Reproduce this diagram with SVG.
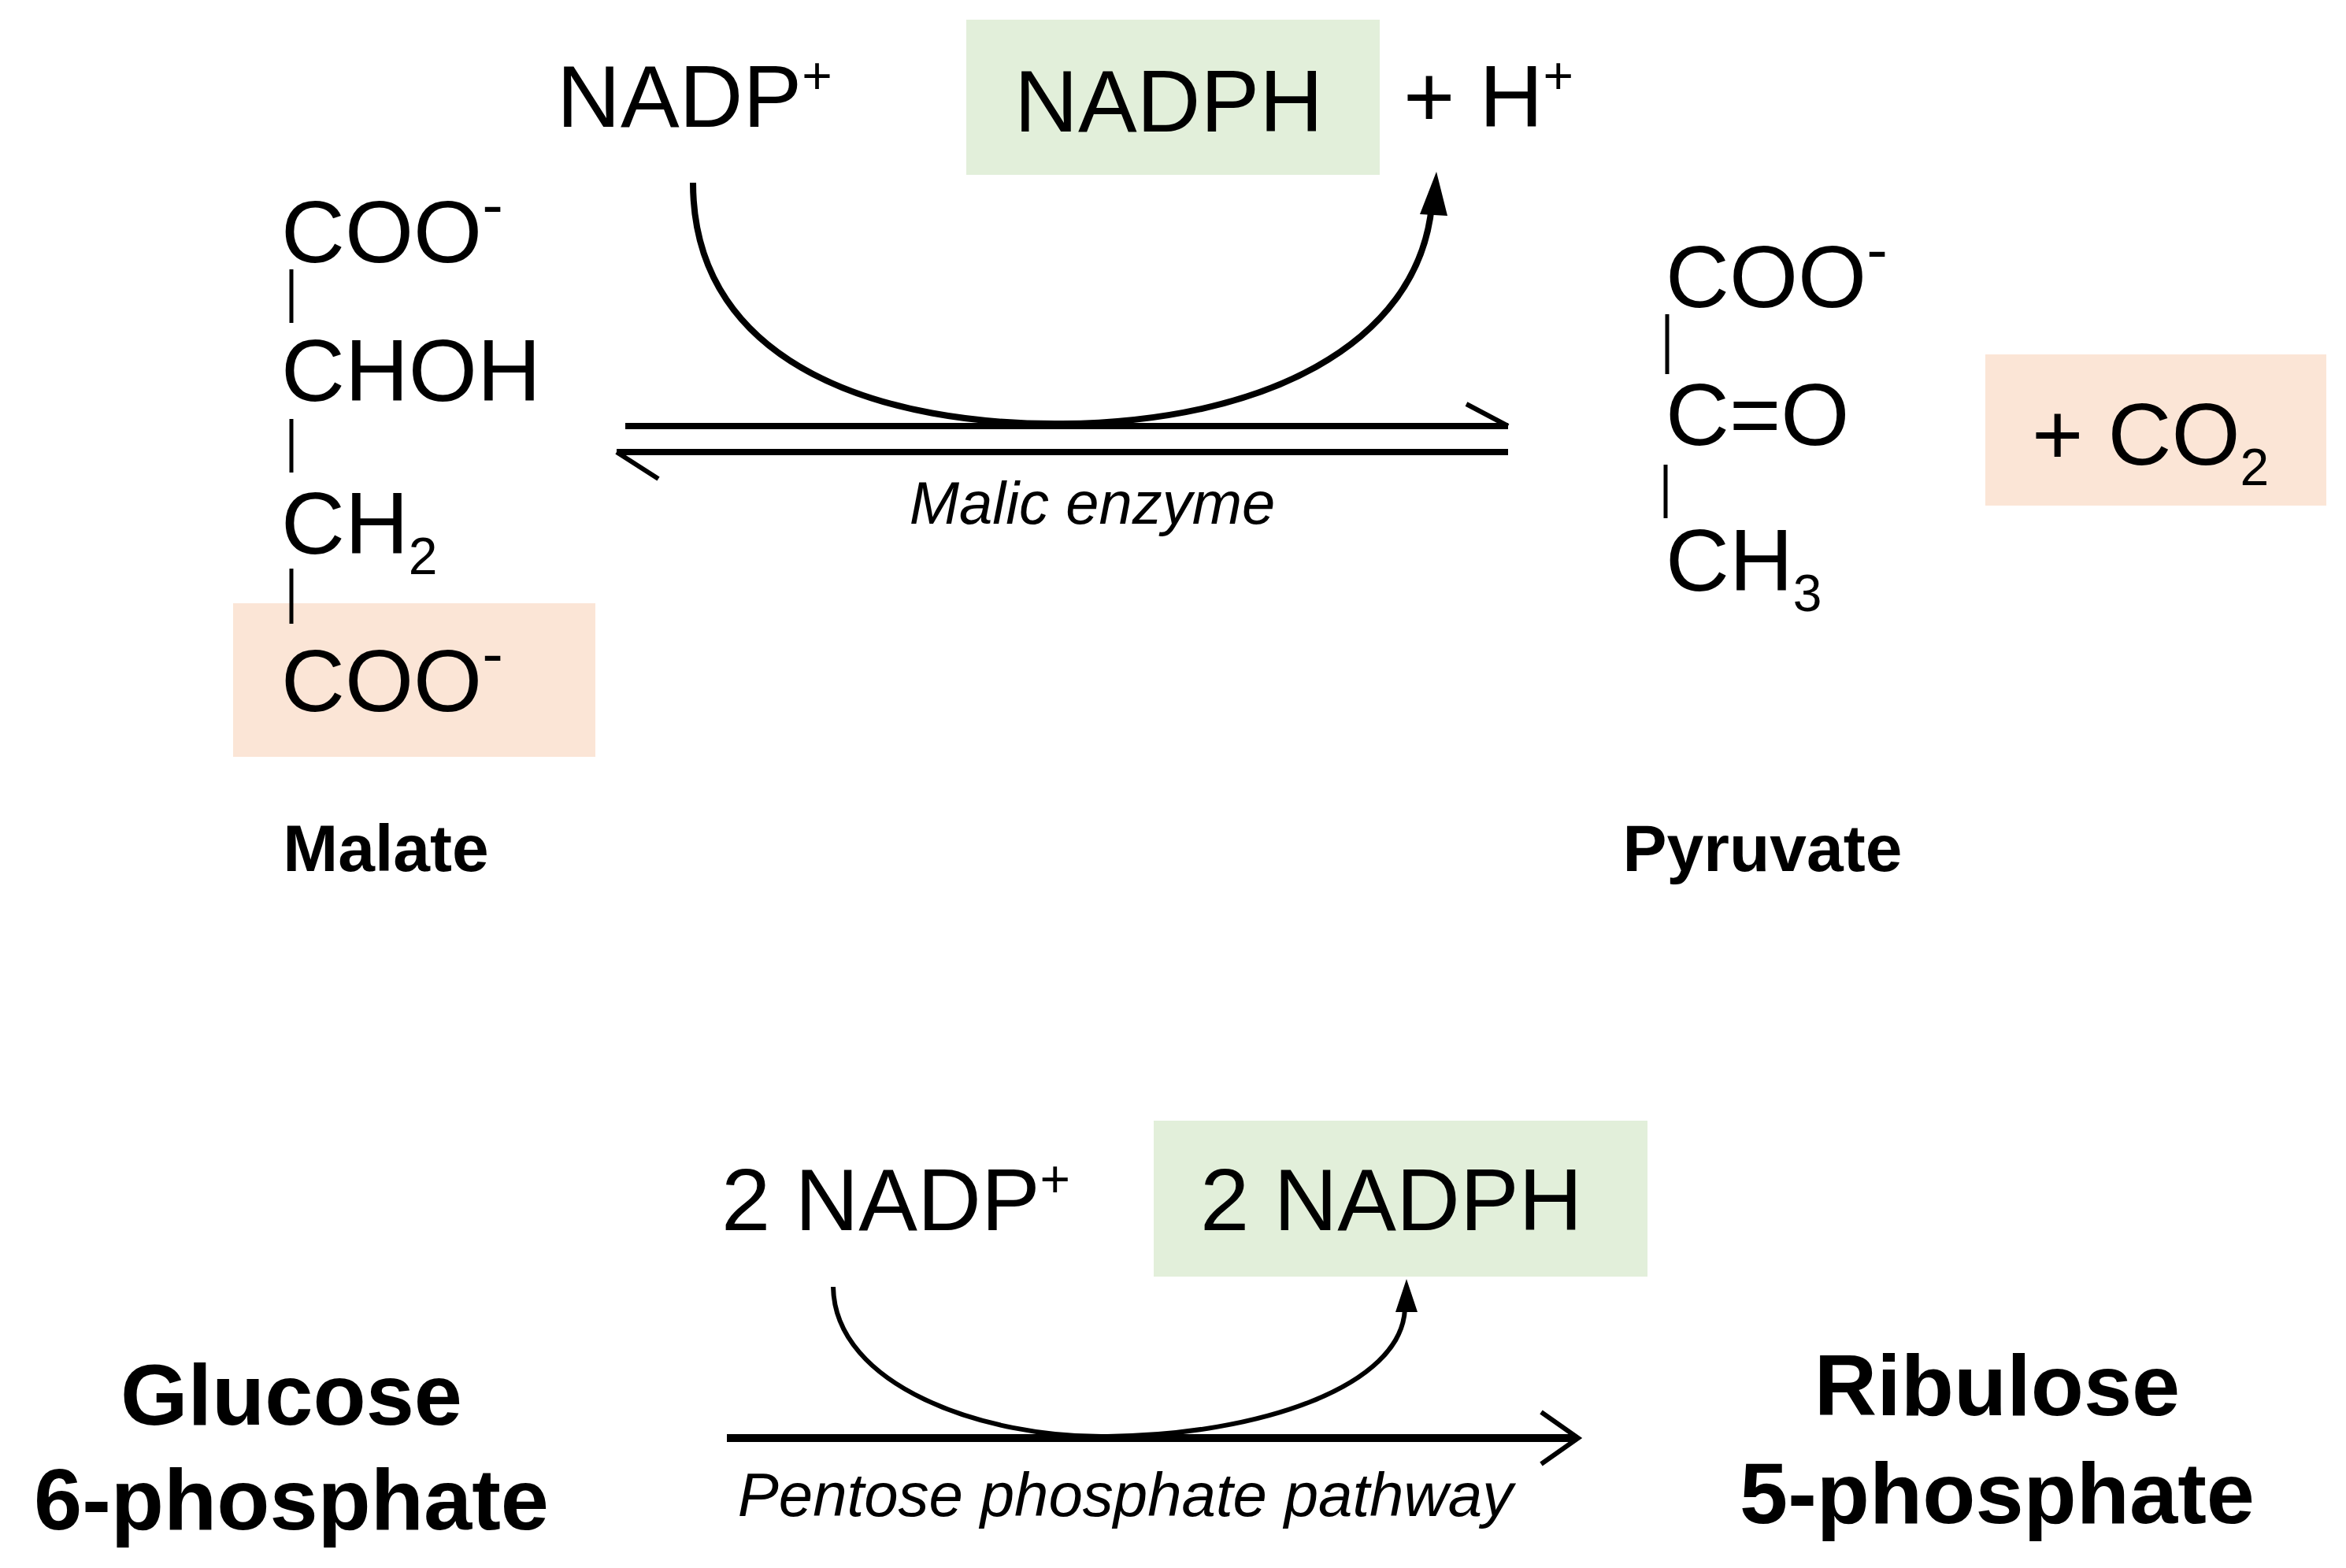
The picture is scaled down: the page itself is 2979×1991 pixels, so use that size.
<svg xmlns="http://www.w3.org/2000/svg" width="2979" height="1991" viewBox="0 0 2979 1991">
<style>
text{font-family:"Liberation Sans",Arial,sans-serif;fill:#000}
.big{font-size:112px}
.bond{stroke:#000;stroke-width:5}
.lbl{font-size:84px;font-weight:bold;text-anchor:middle}
.bl{font-size:110px;font-weight:bold;text-anchor:middle}
.it{font-style:italic;font-size:76px;text-anchor:middle}
.sup{font-size:66px}
.mn{font-size:80px}
.ln{stroke:#000;fill:none}
</style>
<rect width="2979" height="1991" fill="#fff"/>
<g id="nadp-top"><text class="big" x="707" y="161">NADP<tspan class="sup" dy="-42">+</tspan></text></g>
<g id="nadph-top"><rect x="1227" y="25" width="525" height="197" fill="#e2efda"/><text class="big" x="1288" y="167">NADPH</text></g>
<g id="hplus"><text class="big" x="1782" y="161">+ H<tspan class="sup" dy="-42">+</tspan></text></g>
<g id="malate">
<rect x="296" y="766" width="460" height="195" fill="#fbe5d6"/>
<text class="big" x="357" y="333">COO<tspan class="mn" dy="-46">-</tspan></text>
<text class="big" x="357" y="509">CHOH</text>
<text class="big" x="357" y="703">CH<tspan class="sup" dy="26">2</tspan></text>
<text class="big" x="357" y="903">COO<tspan class="mn" dy="-46">-</tspan></text>
<line class="bond" x1="370" y1="342" x2="370" y2="410"/>
<line class="bond" x1="370" y1="532" x2="370" y2="600"/>
<line class="bond" x1="370" y1="722" x2="370" y2="792"/>
<text class="lbl" x="490" y="1106">Malate</text>
</g>
<g id="pyruvate">
<text class="big" x="2115" y="390">COO<tspan class="mn" dy="-46">-</tspan></text>
<text class="big" x="2115" y="565">C=O</text>
<text class="big" x="2115" y="750">CH<tspan class="sup" dy="26">3</tspan></text>
<line class="bond" x1="2117" y1="399" x2="2117" y2="475"/>
<line class="bond" x1="2115" y1="590" x2="2115" y2="658"/>
<text class="lbl" x="2238" y="1106">Pyruvate</text>
</g>
<g id="co2"><rect x="2521" y="450" width="433" height="192" fill="#fbe5d6"/><text class="big" x="2580" y="590">+ CO<tspan class="sup" dy="26">2</tspan></text></g>
<g id="nadp-bot"><text class="big" x="916" y="1562">2 NADP<tspan class="sup" dy="-42">+</tspan></text></g>
<g id="nadph-bot"><rect x="1465" y="1423" width="627" height="198" fill="#e2efda"/><text class="big" x="1524" y="1562">2 NADPH</text></g>
<g id="g6p"><text class="bl" x="370" y="1809">Glucose</text><text class="bl" x="370" y="1942">6-phosphate</text></g>
<g id="r5p"><text class="bl" x="2536" y="1797">Ribulose</text><text class="bl" x="2536" y="1934">5-phosphate</text></g>
<g id="connectors">
<path class="ln" stroke-width="8" d="M880,232 C880,470 1130,540 1349,538 C1600,536 1800,440 1818,262"/>
<polygon points="1824,218 1803,272 1838,274"/>
<line class="ln" stroke-width="8" x1="794" y1="541" x2="1915" y2="541"/>
<polyline class="ln" stroke-width="6" points="1915,541 1862,513"/>
<line class="ln" stroke-width="8" x1="783" y1="574" x2="1915" y2="574"/>
<polyline class="ln" stroke-width="6" points="783,574 836,608"/>
<text class="it" x="1387" y="665">Malic enzyme</text>
<path class="ln" stroke-width="6" d="M1058,1634 C1060,1760 1250,1826 1406,1824 C1600,1822 1780,1760 1784,1662"/>
<polygon points="1786,1624 1772,1666 1800,1666"/>
<line class="ln" stroke-width="10" x1="923" y1="1826" x2="2000" y2="1826"/>
<polyline class="ln" stroke-width="6" points="1957,1793 2004,1826 1957,1859"/>
<text class="it" x="1429" y="1925" style="font-size:78px">Pentose phosphate  pathway</text>
</g>
</svg>
